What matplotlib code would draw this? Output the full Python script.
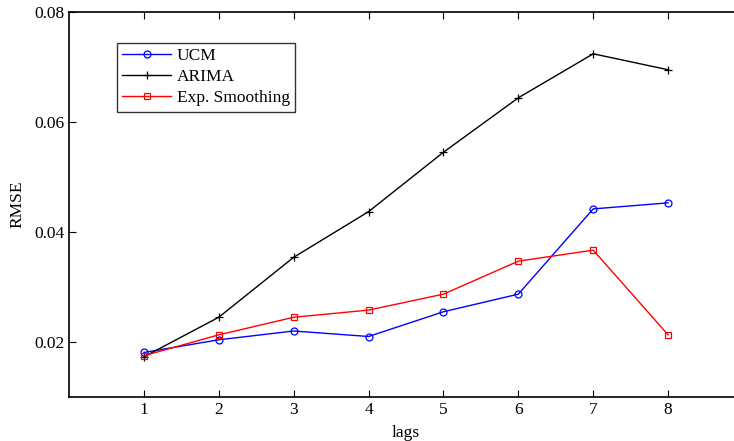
import matplotlib
matplotlib.use("Agg")
import matplotlib.pyplot as plt

lags = [1, 2, 3, 4, 5, 6, 7, 8]
ucm = [0.0181, 0.0204, 0.0220, 0.0210, 0.0255, 0.0287, 0.0442, 0.0453]
arima = [0.0173, 0.0245, 0.0354, 0.0437, 0.0545, 0.0644, 0.0724, 0.0695]
exp_smooth = [0.0175, 0.0213, 0.0245, 0.0258, 0.0287, 0.0347, 0.0367, 0.0213]
yticks = [0.02, 0.04, 0.06, 0.08]

plt.rcParams['font.family'] = ['Liberation Serif', 'DejaVu Serif']
plt.rcParams['font.size'] = 12

fig = plt.figure(figsize=(7.34, 4.41), dpi=100)
ax = fig.add_axes([69/734, 1-397/441, 674/734, (397-12)/441])

ax.plot(lags, ucm, color='blue', marker='o', mfc='none', ms=5, lw=1, mew=0.9, label='UCM')
ax.plot(lags, arima, color='black', marker='+', ms=5.5, lw=1, mew=0.9, label='ARIMA')
ax.plot(lags, exp_smooth, color='red', marker='s', mfc='none', ms=5, lw=1, mew=0.9, label='Exp. Smoothing')

ax.set_xlim(0, 9)
ax.set_ylim(0.01, 0.08)
ax.set_xticks(lags)
ax.set_yticks(yticks)
ax.set_yticklabels([f"{v:.2f}" for v in yticks])
ax.tick_params(direction='in', top=True, right=True, length=5, width=0.8, labelsize=12.5)
for s in ax.spines.values():
    s.set_linewidth(1.2)
ax.set_xlabel('lags', fontsize=12.5, labelpad=5)
ax.set_ylabel('RMSE', fontsize=12.5, labelpad=6)

leg = ax.legend(loc='upper left', bbox_to_anchor=(48/674, 1-31/385), frameon=True,
                fancybox=False, edgecolor='black', fontsize=12.5, borderpad=0.3,
                labelspacing=0.28, handlelength=2.8, handletextpad=0.35, borderaxespad=0)
leg.get_frame().set_linewidth(1.0)

fig.savefig('out.png', dpi=100)
